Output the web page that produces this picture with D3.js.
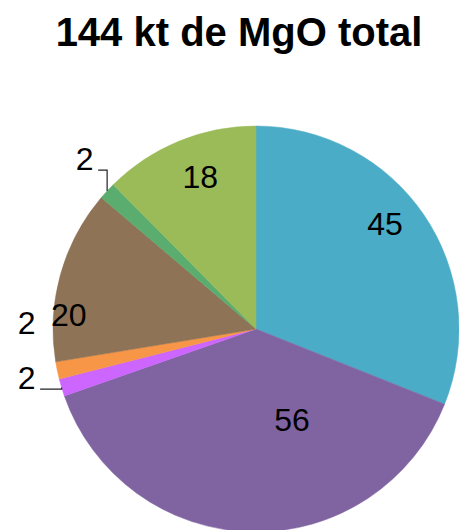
<!DOCTYPE html>
<html>
<head>
<meta charset="utf-8">
<script src="https://cdn.jsdelivr.net/npm/d3@7"></script>
<style>
  body { margin: 0; background: #fff; }
  svg { display: block; }
</style>
</head>
<body>
<script>
// slices, clockwise from 12 o'clock
var values = [45, 56, 2, 2, 20, 2, 18]
var colors = ["#4aacc6", "#8064a2", "#cc66ff", "#f79646", "#8e7357", "#5aad6f", "#9bbb59"]
var title = "144 kt de MgO total"

var width = 459, height = 530
var cx = 256, cy = 329, radius = 203

var svg = d3.select("body")
  .append("svg")
  .attr("width", width)
  .attr("height", height)

svg.append("text")
  .attr("x", 239)
  .attr("y", 46)
  .attr("text-anchor", "middle")
  .attr("font-family", "Liberation Sans, Arial, sans-serif")
  .attr("font-weight", "bold")
  .attr("font-size", "40px")
  .attr("fill", "#000")
  .text(title)

var pie = d3.pie().sort(null).value(d => d)
var arcs = pie(values)

var arc = d3.arc().innerRadius(0).outerRadius(radius)

var g = svg.append("g")
  .attr("transform", "translate(" + cx + "," + cy + ")")

g.selectAll("path.slice")
  .data(arcs)
  .enter()
  .append("path")
  .attr("class", "slice")
  .attr("d", arc)
  .attr("fill", (d, i) => colors[i])
  .attr("stroke", (d, i) => colors[i])
  .attr("stroke-width", 0.5)

// label placement (Excel "best fit" look): angle shift in degrees, radius factor
var place = [
  {da: -5, k: 0.82},
  {da: -23, k: 0.48},
  {da: 4.8, k: 1.155, leader: true},
  {da: 13.5, k: 1.13},
  {da: -11.2, k: 0.925},
  {da: 2, k: 1.19, leader: true},
  {da: 2.3, k: 0.80}
]

function polar(angle, r) {
  return [Math.sin(angle) * r, -Math.cos(angle) * r]
}

arcs.forEach(function(d, i) {
  var mid = (d.startAngle + d.endAngle) / 2
  var p = place[i]
  var pos = polar(mid + p.da * Math.PI / 180, radius * p.k)
  var baseY = pos[1] + 11.5

  g.append("text")
    .attr("x", pos[0])
    .attr("y", baseY)
    .attr("text-anchor", "middle")
    .attr("font-family", "Liberation Sans, Arial, sans-serif")
    .attr("font-size", "32px")
    .attr("fill", "#000")
    .text(d.data)

  if (p.leader) {
    var edge = polar(mid, radius)
    var sx = pos[0] + 13.5
    var pts = [[sx, baseY], [edge[0], baseY], edge]
    g.append("path")
      .attr("d", d3.line()(pts))
      .attr("fill", "none")
      .attr("stroke", "#222")
      .attr("stroke-width", 1.2)
  }
})
</script>
</body>
</html>
